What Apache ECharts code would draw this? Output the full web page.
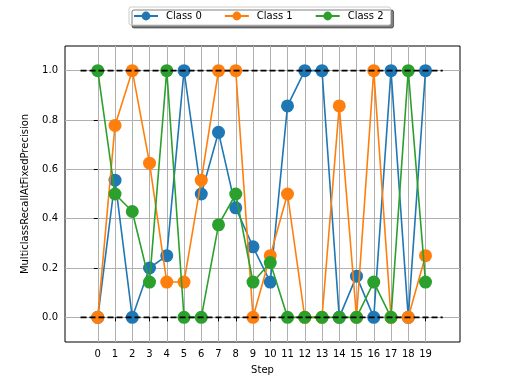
<!DOCTYPE html>
<html>
<head>
<meta charset="utf-8">
<script src="https://cdn.jsdelivr.net/npm/echarts@6/dist/echarts.min.js"></script>
<style>html,body{margin:0;padding:0;background:#fff}#c{width:512px;height:384px}</style>
</head>
<body>
<div id="c"></div>
<script>
var steps = [0,1,2,3,4,5,6,7,8,9,10,11,12,13,14,15,16,17,18,19];
var class0 = [0,0.556,0,0.2,0.25,1,0.5,0.75,0.444,0.286,0.143,0.857,1,1,0,0.167,0,1,0,1];
var class1 = [0,0.778,1,0.625,0.143,0.143,0.556,1,1,0,0.25,0.5,0,0,0.857,0,1,0,0,0.25];
var class2 = [1,0.5,0.429,0.143,1,0,0,0.375,0.5,0.143,0.222,0,0,0,0,0,0.143,0,1,0.143];
var yTicks = [0,0.2,0.4,0.6,0.8,1.0];
var seriesNames = ['Class 0','Class 1','Class 2'];
var colors = ['#1f77b4','#ff7f0e','#2ca02c'];
var refLow = [[-1,0],[20,0]];
var refHigh = [[-1,1],[20,1]];

function pairs(vals){ return steps.map(function(s,i){ return [s, vals[i]]; }); }

var font = 'DejaVu Sans';
var chart = echarts.init(document.getElementById('c'));
var dataSets = [class0, class1, class2];
var series = [];
dataSets.forEach(function(d,i){
  series.push({
    name: seriesNames[i], type:'line', data: pairs(d), z: 3+i,
    symbol:'circle', symbolSize:13, color: colors[i],
    lineStyle:{width:1.6, color: colors[i]},
    itemStyle:{color: colors[i]},
    emphasis:{disabled:true}
  });
});
series.push({type:'line', data:refLow, symbol:'none', silent:true, z:10, lineStyle:{color:'#000', width:1.8, type:[6,3]}});
series.push({type:'line', data:refHigh, symbol:'none', silent:true, z:10, lineStyle:{color:'#000', width:1.8, type:[6,3]}});
chart.setOption({
  animation:false,
  textStyle:{fontFamily:font},
  grid:{left:65, right:52, top:46, bottom:42, show:true, borderColor:'#000', borderWidth:1, containLabel:false},
  legend:{
    data: seriesNames, top:7, left:129,
    backgroundColor:'#fff', borderColor:'#ccc', borderWidth:1, borderRadius:2,
    padding:[4,7,4,4], itemGap:22, itemWidth:24, itemHeight:11,
    shadowColor:'rgba(0,0,0,0.5)', shadowBlur:0, shadowOffsetX:3, shadowOffsetY:3,
    textStyle:{fontFamily:font, fontSize:10, color:'#000', padding:[0,0,0,3]}
  },
  xAxis:{
    type:'value', min:-1.9, max:21,
    name:'Step', nameLocation:'middle', nameGap:23,
    nameTextStyle:{fontFamily:font, fontSize:10, color:'#000'},
    axisLine:{show:false},
    axisTick:{show:true, inside:false, length:4, lineStyle:{color:'#000'}, customValues: steps},
    axisLabel:{fontFamily:font, fontSize:10, color:'#000', margin:7, customValues: steps},
    splitLine:{show:true, lineStyle:{color:'#b0b0b0', width:1}}
  },
  yAxis:{
    type:'value', min:-0.1, max:1.1,
    name:'MulticlassRecallAtFixedPrecision', nameLocation:'middle', nameGap:35,
    nameTextStyle:{fontFamily:font, fontSize:10, color:'#000'},
    axisLine:{show:false},
    axisTick:{show:true, inside:false, length:4, lineStyle:{color:'#000'}, customValues: yTicks},
    axisLabel:{fontFamily:font, fontSize:10, color:'#000', margin:7, customValues: yTicks,
      formatter:function(v){ return v.toFixed(1); }},
    splitLine:{show:true, lineStyle:{color:'#b0b0b0', width:1}}
  },
  series: series
});
</script>
</body>
</html>
